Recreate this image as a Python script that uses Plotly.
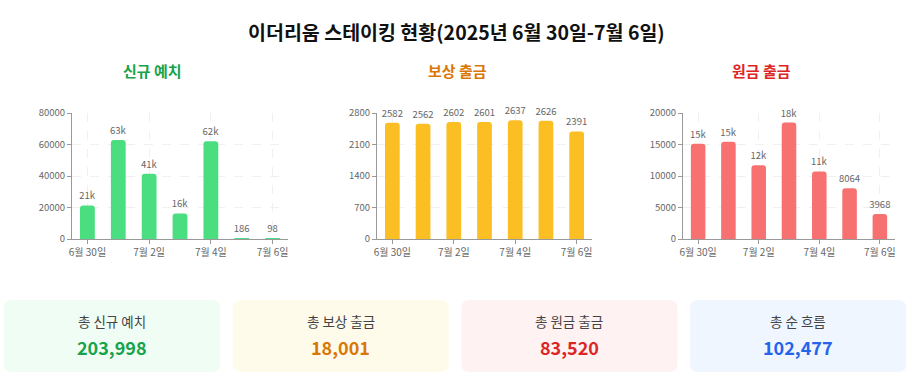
import plotly.graph_objects as go

# ---------------- data ----------------
days = ["6월 30일", "7월 1일", "7월 2일", "7월 3일", "7월 4일", "7월 5일", "7월 6일"]
tick_days = ["6월 30일", "7월 2일", "7월 4일", "7월 6일"]
new_deposits = [21300, 62800, 41400, 16200, 62014, 186, 98]
reward_withdrawals = [2582, 2562, 2602, 2601, 2637, 2626, 2391]
principal_withdrawals = [15130, 15450, 11700, 18480, 10728, 8064, 3968]

chart_titles = ["신규 예치", "보상 출금", "원금 출금"]
card_labels = ["총 신규 예치", "총 보상 출금", "총 원금 출금", "총 순 흐름"]
main_title = "이더리움 스테이킹 현황(2025년 6월 30일-7월 6일)"

y_ranges = [(80000, 20000), (2800, 700), (20000, 5000)]

W, H = 914, 377
FONT = "Noto Sans CJK KR"

bar_colors = ["#4ade80", "#fbbf24", "#f87171"]
title_colors = ["#16a34a", "#d97706", "#dc2626"]
card_bg = ["#f0fdf4", "#fffbeb", "#fef2f2", "#eff6ff"]
card_fg = ["#16a34a", "#d97706", "#dc2626", "#2563eb"]


def fmt(v):
    return f"{round(v / 1000)}k" if v >= 10000 else str(v)


def px(x):
    return x / W


def py(y):
    return 1 - y / H


fig = go.Figure()
series = [new_deposits, reward_withdrawals, principal_withdrawals]
x_domains_px = [(72, 288), (377, 592), (683, 895)]
panel_centers = [152, 457, 761]

for i, vals in enumerate(series):
    n = "" if i == 0 else str(i + 1)
    fig.add_trace(go.Bar(
        x=days, y=vals,
        xaxis="x" + n, yaxis="y" + n,
        marker=dict(color=bar_colors[i], line=dict(width=0)),
        text=[fmt(v) for v in vals],
        textposition="outside",
        constraintext="none",
        cliponaxis=False,
        textfont=dict(size=9.5, color="#666666", family=FONT),
        hoverinfo="x+y",
        showlegend=False,
    ))
    x0, x1 = x_domains_px[i]
    rmax, dt = y_ranges[i]
    fig.layout["xaxis" + n] = dict(
        domain=[px(x0), px(x1)], anchor="y" + n,
        type="category", categoryorder="array", categoryarray=days,
        tickmode="array", tickvals=tick_days, ticktext=tick_days,
        showline=True, linecolor="#999999", linewidth=1,
        ticks="outside", ticklen=4, tickcolor="#999999",
        showgrid=True, gridcolor="#f0f0f0", griddash="dash", gridwidth=1,
        tickfont=dict(size=10, color="#666666", family=FONT),
        automargin=False, fixedrange=True,
    )
    fig.layout["yaxis" + n] = dict(
        domain=[py(239), py(113)], anchor="x" + n,
        range=[0, rmax], dtick=dt, tick0=0, tickformat="d",
        showline=True, linecolor="#999999", linewidth=1,
        ticks="outside", ticklen=4, tickcolor="#999999",
        showgrid=True, gridcolor="#f0f0f0", griddash="dash", gridwidth=1,
        zeroline=False,
        tickfont=dict(size=9.5, color="#666666", family=FONT),
        automargin=False, fixedrange=True,
    )

annotations = [dict(
    text=f"<b>{main_title}</b>", x=px(456), y=py(32), xref="paper", yref="paper",
    showarrow=False, font=dict(size=19.5, color="#111111", family=FONT),
    xanchor="center", yanchor="middle",
)]
for i, t in enumerate(chart_titles):
    annotations.append(dict(
        text=f"<b>{t}</b>", x=px(panel_centers[i]), y=py(71), xref="paper", yref="paper",
        showarrow=False, font=dict(size=15, color=title_colors[i], family=FONT),
        xanchor="center", yanchor="middle",
    ))

totals = [sum(new_deposits), sum(reward_withdrawals), sum(principal_withdrawals)]
totals.append(totals[0] - totals[1] - totals[2])

shapes = []
card_w, card_y0, card_y1, r = 216, 300, 372, 8
for i in range(4):
    x0 = 4 + i * 228.7
    x1 = x0 + card_w
    y0, y1 = card_y0, card_y1
    path = (
        f"M {px(x0 + r)},{py(y0)} L {px(x1 - r)},{py(y0)} "
        f"Q {px(x1)},{py(y0)} {px(x1)},{py(y0 + r)} "
        f"L {px(x1)},{py(y1 - r)} Q {px(x1)},{py(y1)} {px(x1 - r)},{py(y1)} "
        f"L {px(x0 + r)},{py(y1)} Q {px(x0)},{py(y1)} {px(x0)},{py(y1 - r)} "
        f"L {px(x0)},{py(y0 + r)} Q {px(x0)},{py(y0)} {px(x0 + r)},{py(y0)} Z"
    )
    shapes.append(dict(type="path", path=path, xref="paper", yref="paper",
                       fillcolor=card_bg[i], line=dict(width=0), layer="below"))
    cx = (x0 + x1) / 2
    annotations.append(dict(
        text=card_labels[i], x=px(cx), y=py(321), xref="paper", yref="paper",
        showarrow=False, font=dict(size=13.5, color="#444444", family=FONT),
        xanchor="center", yanchor="middle",
    ))
    annotations.append(dict(
        text=f"<b>{totals[i]:,}</b>", x=px(cx), y=py(347), xref="paper", yref="paper",
        showarrow=False, font=dict(size=18, color=card_fg[i], family=FONT),
        xanchor="center", yanchor="middle",
    ))

fig.update_layout(
    width=W, height=H, autosize=False,
    margin=dict(l=0, r=0, t=0, b=0, pad=0),
    paper_bgcolor="white", plot_bgcolor="white",
    bargap=0.52, barcornerradius=3,
    font=dict(family=FONT),
    annotations=annotations, shapes=shapes,
    template="none",
)

fig.write_html("out.html", config={"displayModeBar": False},
               post_script="document.body.style.margin='0';document.body.style.overflow='hidden';")
